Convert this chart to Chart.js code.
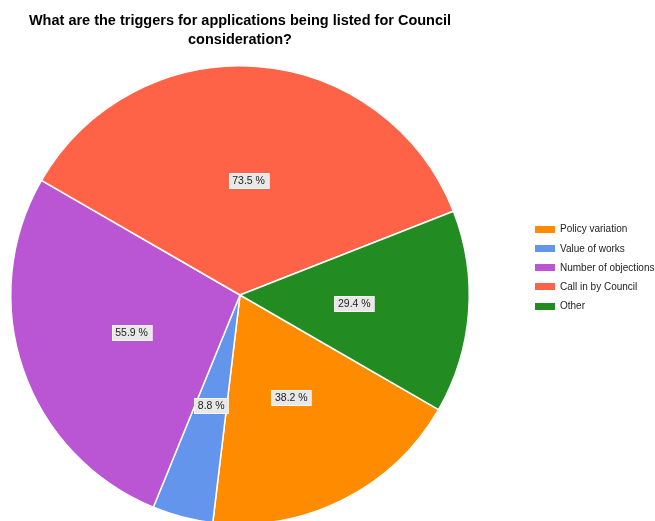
<!DOCTYPE html>
<html>
<head>
<meta charset="utf-8">
<script src="https://cdn.jsdelivr.net/npm/chart.js@4"></script>
<style>
  html, body { margin: 0; padding: 0; background: #fff; overflow: hidden; }
  #wrap { width: 655px; height: 540px; }
</style>
</head>
<body>
<div id="wrap"><canvas id="c" width="655" height="540"></canvas></div>
<script>
const titleLines = ["What are the triggers for applications being listed for Council", "consideration?"];
const categories = ["Policy variation", "Value of works", "Number of objections", "Call in by Council", "Other"];
const values = [38.2, 8.8, 55.9, 73.5, 29.4];
const colors = ["#FF8C00", "#6495ED", "#BA55D3", "#FF6347", "#228B22"];

const FONT = '"Liberation Sans", Arial, sans-serif';

const overlay = {
  id: 'overlay',
  afterDatasetsDraw(chart) {
    const ctx = chart.ctx;
    ctx.save();
    // slice labels
    const meta = chart.getDatasetMeta(0);
    ctx.font = '10.5px ' + FONT;
    ctx.textBaseline = 'middle';
    ctx.textAlign = 'center';
    meta.data.forEach((arc, i) => {
      const p = arc.getCenterPoint();
      const txt = values[i].toFixed(1) + ' %';
      const w = ctx.measureText(txt).width + 7;
      const h = 15;
      const x = Math.round(p.x - w / 2) + 0.5, y = Math.round(p.y - h / 2) + 0.5;
      ctx.fillStyle = '#e8e8e8';
      ctx.fillRect(x, y, w, h);
      ctx.strokeStyle = '#f6f6f6';
      ctx.lineWidth = 1;
      ctx.strokeRect(x, y, w, h);
      ctx.fillStyle = '#222';
      ctx.fillText(txt, p.x, p.y + 0.5);
    });
    // title
    ctx.font = 'bold 14.5px ' + FONT;
    ctx.fillStyle = '#000';
    ctx.textAlign = 'center';
    titleLines.forEach((t, i) => ctx.fillText(t, 240, 21 + i * 18.5));
    // legend
    ctx.font = '10px ' + FONT;
    ctx.textAlign = 'left';
    categories.forEach((c, i) => {
      const cy = 229 + i * 19.3;
      ctx.fillStyle = colors[i];
      ctx.fillRect(535, Math.round(cy - 3.5), 20, 7);
      ctx.fillStyle = '#222';
      ctx.fillText(c, 560, cy + 0.5);
    });
    ctx.restore();
  }
};

new Chart(document.getElementById('c'), {
  type: 'pie',
  data: {
    labels: categories,
    datasets: [{
      data: values,
      backgroundColor: colors,
      borderColor: '#ffffff',
      borderWidth: 1.5
    }]
  },
  options: {
    responsive: false,
    animation: false,
    rotation: 120,
    layout: { padding: { left: 10, top: 65, right: 185, bottom: 15 } },
    plugins: {
      legend: { display: false },
      title: { display: false },
      tooltip: { enabled: false }
    }
  },
  plugins: [overlay]
});
</script>
</body>
</html>
